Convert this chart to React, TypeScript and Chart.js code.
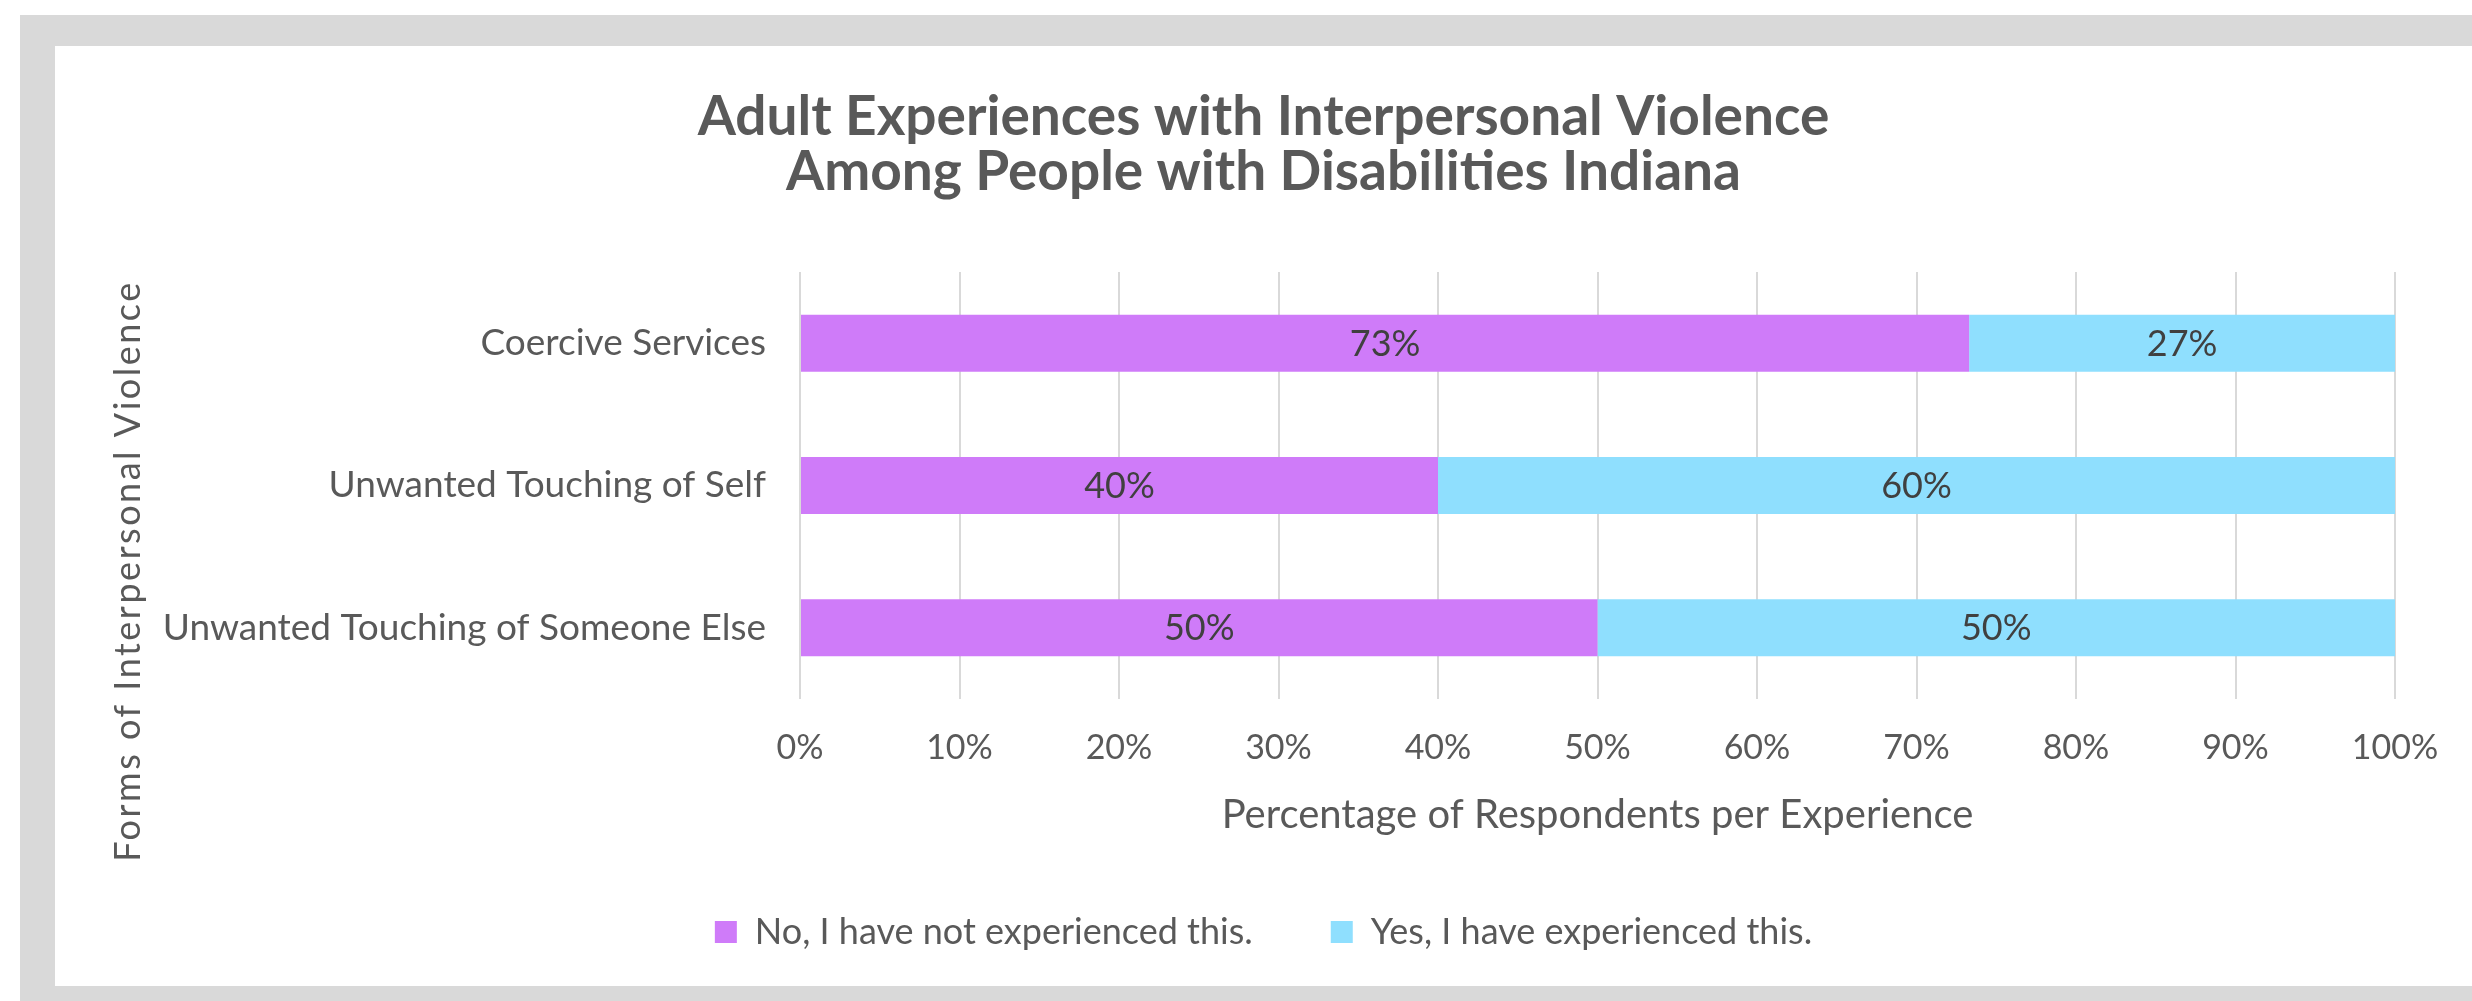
import React, { useEffect, useRef } from "react";
import { Chart, registerables } from "chart.js";

Chart.register(...registerables);

const categories = [
  "Coercive Services",
  "Unwanted Touching of Self",
  "Unwanted Touching of Someone Else",
];
const seriesNames = ["No, I have not experienced this.", "Yes, I have experienced this."];
const notExperienced = [73.3, 40, 50];
const experienced = [26.7, 60, 50];
const xTicks = [0, 10, 20, 30, 40, 50, 60, 70, 80, 90, 100];
const titleLines = [
  "Adult Experiences with Interpersonal Violence",
  "Among People with Disabilities Indiana",
];
const xTitle = "Percentage of Respondents per Experience";
const yTitle = "Forms of Interpersonal Violence";

const FONT = "Lato, 'Open Sans', sans-serif";
const TEXT = "#595959";

const barLabels = {
  id: "barLabels",
  afterDatasetsDraw(chart: any) {
    const ctx = chart.ctx;
    ctx.save();
    ctx.font = `36px ${FONT}`;
    ctx.fillStyle = "#404040";
    ctx.textAlign = "center";
    ctx.textBaseline = "middle";
    chart.data.datasets.forEach((ds: any, i: number) => {
      const meta = chart.getDatasetMeta(i);
      meta.data.forEach((bar: any, j: number) => {
        const p = bar.getProps(["x", "y", "base"], true);
        const v = ds.data[j];
        ctx.fillText(Math.round(v) + "%", (p.x + p.base) / 2, p.y + 1);
      });
    });
    ctx.restore();
  },
};

const yAxisTitle = {
  id: "yAxisTitle",
  afterDraw(chart: any) {
    const ctx = chart.ctx;
    ctx.save();
    ctx.translate(73, 525);
    ctx.rotate(-Math.PI / 2);
    ctx.font = `36px ${FONT}`;
    try {
      (ctx as any).letterSpacing = "2.5px";
    } catch (e) {}
    ctx.fillStyle = TEXT;
    ctx.textAlign = "center";
    ctx.textBaseline = "middle";
    ctx.fillText(yTitle, 0, 0);
    ctx.restore();
  },
};

export default function App() {
  const ref = useRef<HTMLCanvasElement>(null);
  useEffect(() => {
    if (!ref.current) return;
    const chart = new Chart(ref.current, {
      type: "bar",
      data: {
        labels: categories,
        datasets: [
          {
            label: seriesNames[0],
            data: notExperienced,
            backgroundColor: "#CF7BF9",
            barPercentage: 0.4,
            categoryPercentage: 1,
          },
          {
            label: seriesNames[1],
            data: experienced,
            backgroundColor: "#8FDFFE",
            barPercentage: 0.4,
            categoryPercentage: 1,
          },
        ],
      },
      options: {
        indexAxis: "y",
        animation: false,
        responsive: false,
        devicePixelRatio: 1,
        layout: { padding: { left: 0, right: 0, top: 0, bottom: 26 } },
        scales: {
          x: {
            stacked: true,
            min: 0,
            max: 100,
            afterBuildTicks(scale: any) {
              scale.ticks = xTicks.map((v) => ({ value: v }));
            },
            afterFit(scale: any) {
              scale.height = 137;
              scale.paddingRight = 77;
              scale.paddingLeft = 0;
            },
            grid: { color: "#d9d9d9", lineWidth: 2, drawTicks: false },
            border: { display: false },
            ticks: {
              padding: 29,
              color: TEXT,
              font: { family: FONT, size: 34 },
              callback: (v: any) => v + "%",
            },
            title: {
              display: true,
              text: xTitle,
              color: TEXT,
              font: { family: FONT, size: 40, lineHeight: 1 },
              padding: { top: 0, bottom: 1 },
            },
          },
          y: {
            stacked: true,
            afterFit(scale: any) {
              scale.width = 745;
            },
            grid: { display: false, drawTicks: false },
            border: { display: false },
            ticks: {
              padding: 34,
              color: TEXT,
              font: { family: FONT, size: 37 },
            },
          },
        },
        plugins: {
          title: {
            display: true,
            text: titleLines,
            color: TEXT,
            font: { family: FONT, size: 55, weight: "bold", lineHeight: 1.0 },
            padding: { top: 44, bottom: 72 },
          },
          legend: {
            position: "bottom",
            labels: {
              color: TEXT,
              font: { family: FONT, size: 36 },
              boxWidth: 22,
              boxHeight: 22,
              padding: 78,
            },
          },
          tooltip: { enabled: false },
        },
      },
      plugins: [barLabels, yAxisTitle],
    } as any);
    return () => chart.destroy();
  }, []);

  return (
    <div style={{ position: "absolute", left: 0, top: 0, width: 2472, height: 1001, background: "#ffffff", overflow: "hidden" }}>
      <div style={{ position: "absolute", left: 20, top: 15, width: 2452, height: 986, background: "#d9d9d9" }} />
      <div style={{ position: "absolute", left: 55, top: 46, width: 2417, height: 940, background: "#ffffff" }}>
        <canvas ref={ref} width={2417} height={940} style={{ width: 2417, height: 940, display: "block" }} />
      </div>
    </div>
  );
}
